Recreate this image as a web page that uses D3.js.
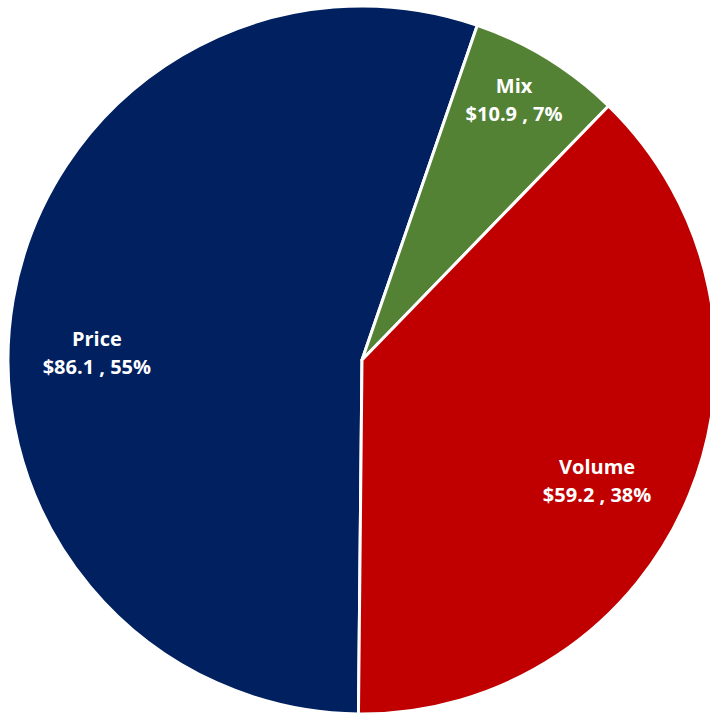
<!DOCTYPE html>
<html>
<head>
<meta charset="utf-8">
<script src="https://cdn.jsdelivr.net/npm/d3@7"></script>
<style>
  body { margin: 0; background: #fff; }
  svg { display: block; }
  text { font-family: "Open Sans", "Liberation Sans", sans-serif; font-weight: bold; fill: #fff; }
</style>
</head>
<body>
<svg id="chart"></svg>
<script>
// Data, in drawing order (clockwise, starting at 6 o'clock)
const categories = ["Price", "Mix", "Volume"];
const amounts = [86.1, 10.9, 59.2];
const percents = ["55%", "7%", "38%"];
const colors = ["#002060", "#548235", "#C00000"];

const width = 710, height = 714;
const cx = 362, cy = 360, radius = 354;

// Label nudges (px) from the arc centroid, Excel "best fit" feel
const labelRadius = [265, 300, 265];
const labelNudge = [[-4, 38], [-5, -4], [-10, 20]];

const svg = d3.select("#chart")
  .attr("width", width)
  .attr("height", height);

const g = svg.append("g").attr("transform", `translate(${cx},${cy})`);

const pie = d3.pie()
  .sort(null)
  .value((d) => d)
  .startAngle(Math.PI + 0.01)
  .endAngle(3 * Math.PI + 0.01);

const arcs = pie(amounts);
const arc = d3.arc().innerRadius(0).outerRadius(radius);

g.selectAll("path")
  .data(arcs)
  .enter()
  .append("path")
  .attr("d", arc)
  .attr("fill", (d, i) => colors[i])
  .attr("stroke", "#fff")
  .attr("stroke-width", 3)
  .attr("stroke-linejoin", "round");

const labels = g.selectAll("g.label")
  .data(arcs)
  .enter()
  .append("g")
  .attr("class", "label")
  .attr("transform", (d, i) => {
    const c = d3.arc().innerRadius(labelRadius[i]).outerRadius(labelRadius[i]).centroid(d);
    return `translate(${c[0] + labelNudge[i][0]},${c[1] + labelNudge[i][1]})`;
  });

labels.append("text")
  .attr("text-anchor", "middle")
  .attr("font-size", 20)
  .attr("y", -7)
  .text((d, i) => categories[i]);

labels.append("text")
  .attr("text-anchor", "middle")
  .attr("font-size", 20)
  .attr("y", 21)
  .text((d, i) => `$${amounts[i].toFixed(1)} , ${percents[i]}`);
</script>
</body>
</html>
